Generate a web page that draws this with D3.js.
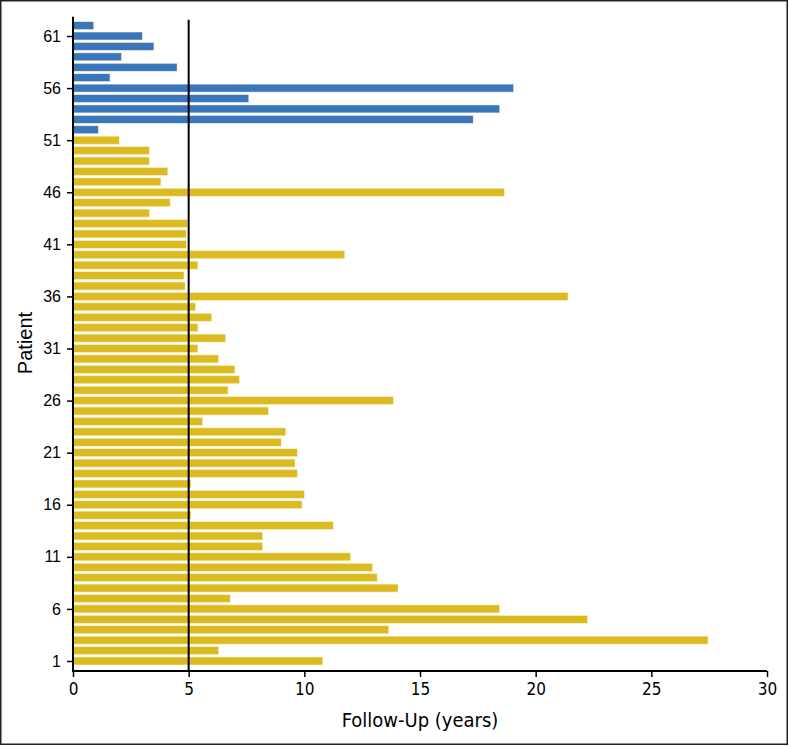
<!DOCTYPE html>
<html>
<head>
<meta charset="utf-8">
<script src="https://cdn.jsdelivr.net/npm/d3@7"></script>
<style>
  body { margin: 0; background: #fff; }
</style>
</head>
<body>
<div class="canvas"></div>
<script>
const svgWidth = 789;
const svgHeight = 746;

// follow-up per patient, patient 1 first
const followUpGold = [10.8, 6.3, 27.45, 13.65, 22.25, 18.45, 6.8, 14.05, 13.15, 12.95,
    12.0, 8.2, 8.2, 11.25, 5.1, 9.9, 10.0, 5.1, 9.7, 9.6,
    9.7, 9.0, 9.2, 5.6, 8.45, 13.85, 6.7, 7.2, 7.0, 6.3,
    5.4, 6.6, 5.4, 6.0, 5.3, 21.4, 4.85, 4.8, 5.4, 11.75,
    4.9, 4.9, 4.95, 3.3, 4.2, 18.65, 3.8, 4.1, 3.3, 3.3,
    2.0];
const followUpBlue = [1.1, 17.3, 18.45, 7.6, 19.05, 1.6, 4.5, 2.1, 3.5, 3.0, 0.9];
const xTicks = [0, 5, 10, 15, 20, 25, 30];
const yTicks = [1, 6, 11, 16, 21, 26, 31, 36, 41, 46, 51, 56, 61];
const cutoff = 5;

const data = followUpGold.map((v, i) => ({ patient: i + 1, years: v, group: 'gold' }))
    .concat(followUpBlue.map((v, i) => ({ patient: followUpGold.length + i + 1, years: v, group: 'blue' })));

const colors = { gold: '#dcbb22', blue: '#3a76bb' };
const sans = '"Liberation Sans", Arial, sans-serif';
const narrow = '"DejaVu Sans Condensed", "Liberation Sans Narrow", sans-serif';

const svg = d3.select('.canvas')
    .append('svg')
        .attr('width', svgWidth)
        .attr('height', svgHeight);

// frame round the figure
svg.append('rect')
    .attr('x', 0.75).attr('y', 0.75)
    .attr('width', svgWidth - 2.5).attr('height', svgHeight - 2.5)
    .attr('fill', 'none')
    .attr('stroke', '#222')
    .attr('stroke-width', 1.5);

// Scale setup:
const x = d3.scaleLinear().domain([0, 30]).range([73, 767]);
const y = d3.scaleLinear().domain([1, 62]).range([661, 25.6]);
const barH = 8;

// bars
svg.append('g')
    .selectAll('rect')
    .data(data)
    .enter().append('rect')
        .attr('x', x(0))
        .attr('y', d => y(d.patient) - barH / 2)
        .attr('width', d => x(d.years) - x(0))
        .attr('height', barH)
        .attr('fill', d => colors[d.group])
        .attr('stroke', '#fbf3cf')
        .attr('stroke-width', 0.6);

// cutoff line
svg.append('line')
    .attr('x1', x(cutoff)).attr('x2', x(cutoff))
    .attr('y1', y(62.55)).attr('y2', y(0.04))
    .attr('stroke', '#000')
    .attr('stroke-width', 2);

// Axes:
const xAxis = d3.axisBottom(x).tickValues(xTicks).tickSize(6).tickPadding(6);
const yAxis = d3.axisLeft(y).tickValues(yTicks).tickSize(6).tickPadding(6);

const xAxisGroup = svg.append('g')
    .attr('class', 'x-axis')
    .attr('transform', `translate(0, ${y(0.04)})`)
    .call(xAxis);

const yAxisGroup = svg.append('g')
    .attr('class', 'y-axis')
    .attr('transform', `translate(${x(0)}, 0)`)
    .call(yAxis);

xAxisGroup.select('.domain').remove();
yAxisGroup.select('.domain').remove();
svg.selectAll('.tick line').attr('stroke', '#000').attr('stroke-width', 1.5);
svg.selectAll('.tick text').attr('fill', '#000');
xAxisGroup.selectAll('text').style('font-family', narrow).style('font-size', '17px');
yAxisGroup.selectAll('text').style('font-family', sans).style('font-size', '16px');

// axis lines
svg.append('line')
    .attr('x1', x(0)).attr('x2', x(30))
    .attr('y1', y(0.04)).attr('y2', y(0.04))
    .attr('stroke', '#000').attr('stroke-width', 2);
svg.append('line')
    .attr('x1', x(0)).attr('x2', x(0))
    .attr('y1', y(62.85)).attr('y2', y(0.04) + 1)
    .attr('stroke', '#000').attr('stroke-width', 2);

// titles
svg.append('text')
    .attr('x', (x(0) + x(30)) / 2)
    .attr('y', 727)
    .attr('text-anchor', 'middle')
    .style('font-family', narrow)
    .style('font-size', '20px')
    .text('Follow-Up (years)');

svg.append('text')
    .attr('transform', 'translate(32, 343) rotate(-90)')
    .attr('text-anchor', 'middle')
    .style('font-family', sans)
    .style('font-size', '20px')
    .text('Patient');
</script>
</body>
</html>
